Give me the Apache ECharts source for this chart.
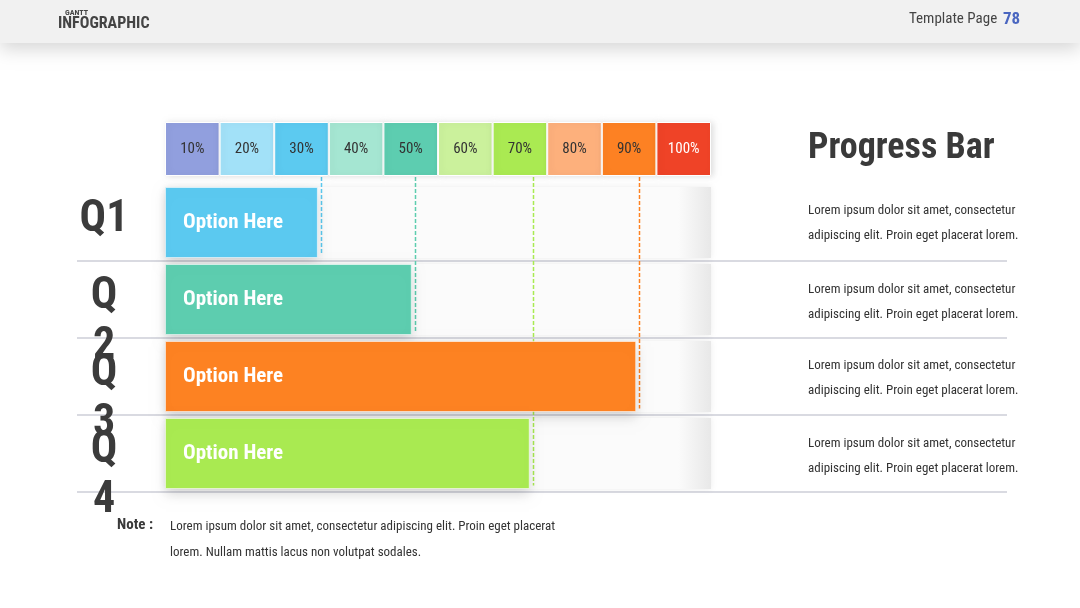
<!DOCTYPE html>
<html>
<head>
<meta charset="utf-8">
<script src="https://cdn.jsdelivr.net/npm/echarts@6/dist/echarts.min.js"></script>
<style>
  html, body { margin: 0; padding: 0; background: #ffffff; }
  #main { width: 1080px; height: 608px; }
</style>
</head>
<body>
<div id="main"></div>
<script>
// quarters and how far each one got (percent of the full scale)
var quarters = ['Q1', 'Q2', 'Q3', 'Q4'];
var progress = [28.0, 45.2, 86.3, 66.8];
var trackFull = [100, 100, 100, 100];
var barLabels = ['Option Here', 'Option Here', 'Option Here', 'Option Here'];

// percent scale cells above the bars
var scaleLabels = ['10%', '20%', '30%', '40%', '50%', '60%', '70%', '80%', '90%', '100%'];
var scaleCells = [1, 1, 1, 1, 1, 1, 1, 1, 1, 1];

var descLine1 = 'Lorem ipsum dolor sit amet, consectetur';
var descLine2 = 'adipiscing elit. Proin eget placerat lorem.';

var barColors = ['#5bc9f0', '#5dcdaf', '#fd8222', '#a9ea51'];
var cellColors = ['#919fde', '#a2e1f8', '#5ccaf0', '#a5e6d2', '#5dcdb0',
                  '#cbf19c', '#aaea52', '#fdb07c', '#fd8123', '#ef4327'];

var FONT = "'Roboto Condensed', 'Open Sans Condensed', 'DejaVu Sans Condensed', sans-serif";

var myChart = echarts.init(document.getElementById('main'));

// header, text blocks on the right and the note below
var graphics = [
  { type: 'rect', shape: { x: 0, y: 0, width: 1080, height: 43 }, z: 10,
    style: { fill: '#f1f1f1', shadowBlur: 18, shadowOffsetY: 6, shadowColor: 'rgba(0,0,0,0.16)' } },
  { type: 'text', x: 65, y: 9, z: 11, style: { text: 'GANTT', font: 'bold 8px ' + FONT, fill: '#444' } },
  { type: 'text', x: 58, y: 16, z: 11, style: { text: 'INFOGRAPHIC', font: 'bold 16px ' + FONT, fill: '#444' } },
  { type: 'text', x: 909, y: 12, z: 11, style: { text: 'Template Page', font: '15px ' + FONT, fill: '#444' } },
  { type: 'text', x: 1003, y: 11, z: 11, style: { text: '78', font: 'bold 17px ' + FONT, fill: '#4a66c0' } },
  { type: 'text', x: 808, y: 131, style: { text: 'Progress Bar', font: 'bold 36px ' + FONT, fill: '#3a3a3a' } },
  { type: 'text', x: 117, y: 518, style: { text: 'Note :', font: 'bold 15px ' + FONT, fill: '#3a3a3a' } },
  { type: 'text', x: 170, y: 514, style: { text: 'Lorem ipsum dolor sit amet, consectetur adipiscing elit. Proin eget placerat\nlorem. Nullam mattis lacus non volutpat sodales.', font: '13px ' + FONT, fill: '#333', lineHeight: 26 } }
];
var descTops = [198, 277, 353, 431];
for (var i = 0; i < descTops.length; i++) {
  graphics.push({
    type: 'text', x: 808, y: descTops[i],
    style: { text: descLine1 + '\n' + descLine2, font: '13px ' + FONT, fill: '#333', lineHeight: 25 }
  });
}

var option = {
  animation: false,
  backgroundColor: '#ffffff',
  graphic: graphics,
  grid: [
    { left: 165, width: 546, top: 184, height: 308 },   // bars
    { left: 165, width: 546, top: 122, height: 54 },    // percent cells
    { left: 77, width: 930, top: 184, height: 308 }     // row separators
  ],
  xAxis: [
    { gridIndex: 0, type: 'value', min: 0, max: 100, show: false },
    { gridIndex: 1, type: 'category', data: scaleLabels, show: false },
    { gridIndex: 2, type: 'value', min: 0, max: 1, show: false }
  ],
  yAxis: [
    {
      gridIndex: 0, type: 'category', data: quarters, inverse: true,
      axisLine: { show: false }, axisTick: { show: false }, splitLine: { show: false },
      axisLabel: {
        interval: 0, margin: 61, align: 'center', verticalAlign: 'middle', padding: [44, 0, 0, 0],
        formatter: function (v, idx) {
          // the narrow label box breaks Q2..Q4 onto two lines
          if (idx === 0) return '{q|' + v + '}\n{q| }';
          return '{q|' + v.charAt(0) + '}\n{q|' + v.slice(1) + '}';
        },
        rich: { q: { fontFamily: FONT, fontWeight: 'bold', fontSize: 44, lineHeight: 50, color: '#3b3b3b', align: 'center' } }
      }
    },
    { gridIndex: 1, type: 'value', min: 0, max: 1, show: false },
    {
      gridIndex: 2, type: 'category', data: quarters, inverse: true,
      axisLine: { show: false }, axisTick: { show: false }, axisLabel: { show: false },
      splitLine: { show: true, showMinLine: false, lineStyle: { color: '#d9dae1', width: 2 } }
    }
  ],
  series: [
    {
      // empty tracks behind each bar
      type: 'bar', xAxisIndex: 0, yAxisIndex: 0, data: trackFull, barWidth: 71, z: 1, silent: true,
      itemStyle: {
        color: { type: 'linear', x: 0, y: 0, x2: 1, y2: 0, colorStops: [
          { offset: 0, color: '#eeeeee' }, { offset: 0.04, color: '#fbfbfb' },
          { offset: 0.94, color: '#fbfbfb' }, { offset: 1, color: '#e8e8e8' }] },
        shadowBlur: 6, shadowColor: 'rgba(0,0,0,0.08)'
      }
    },
    {
      // dashed markers dropping from the scale to each bar end
      type: 'custom', xAxisIndex: 0, yAxisIndex: 0, z: 2, silent: true,
      data: progress.map(function (v, i) { return [v, i]; }),
      renderItem: function (params, api) {
        var p = api.coord([api.value(0), api.value(1)]);
        var x = Math.round(p[0]) + 3.5;
        return {
          type: 'line',
          shape: { x1: x, y1: params.coordSys.y - 7, x2: x, y2: p[1] + 32 },
          style: { stroke: barColors[params.dataIndex], lineWidth: 1.5, lineDash: [4, 2] }
        };
      }
    },
    {
      type: 'bar', xAxisIndex: 0, yAxisIndex: 0, data: progress, barWidth: 71, barGap: '-100%', z: 3,
      itemStyle: {
        color: function (p) { return barColors[p.dataIndex]; },
        borderColor: 'rgba(255,255,255,0.55)', borderWidth: 1,
        shadowBlur: 12, shadowOffsetY: 5, shadowColor: 'rgba(0,0,0,0.14)'
      },
      label: {
        show: true, position: 'insideLeft', distance: 18,
        formatter: function (p) { return barLabels[p.dataIndex]; },
        fontFamily: FONT, fontWeight: 'bold', fontSize: 21, color: '#ffffff'
      }
    },
    {
      type: 'bar', xAxisIndex: 1, yAxisIndex: 1, barCategoryGap: 0,
      data: scaleCells.map(function (v, i) {
        // last cell has white text
        return { value: v, label: { color: i === scaleCells.length - 1 ? '#ffffff' : '#333333' } };
      }),
      itemStyle: {
        color: function (p) { return cellColors[p.dataIndex]; },
        borderColor: '#ffffff', borderWidth: 1,
        shadowBlur: 6, shadowOffsetX: 2, shadowColor: 'rgba(0,0,0,0.12)'
      },
      label: {
        show: true, position: 'inside',
        formatter: function (p) { return p.name; },
        fontFamily: FONT, fontSize: 15
      }
    }
  ]
};

myChart.setOption(option, true);
</script>
</body>
</html>
